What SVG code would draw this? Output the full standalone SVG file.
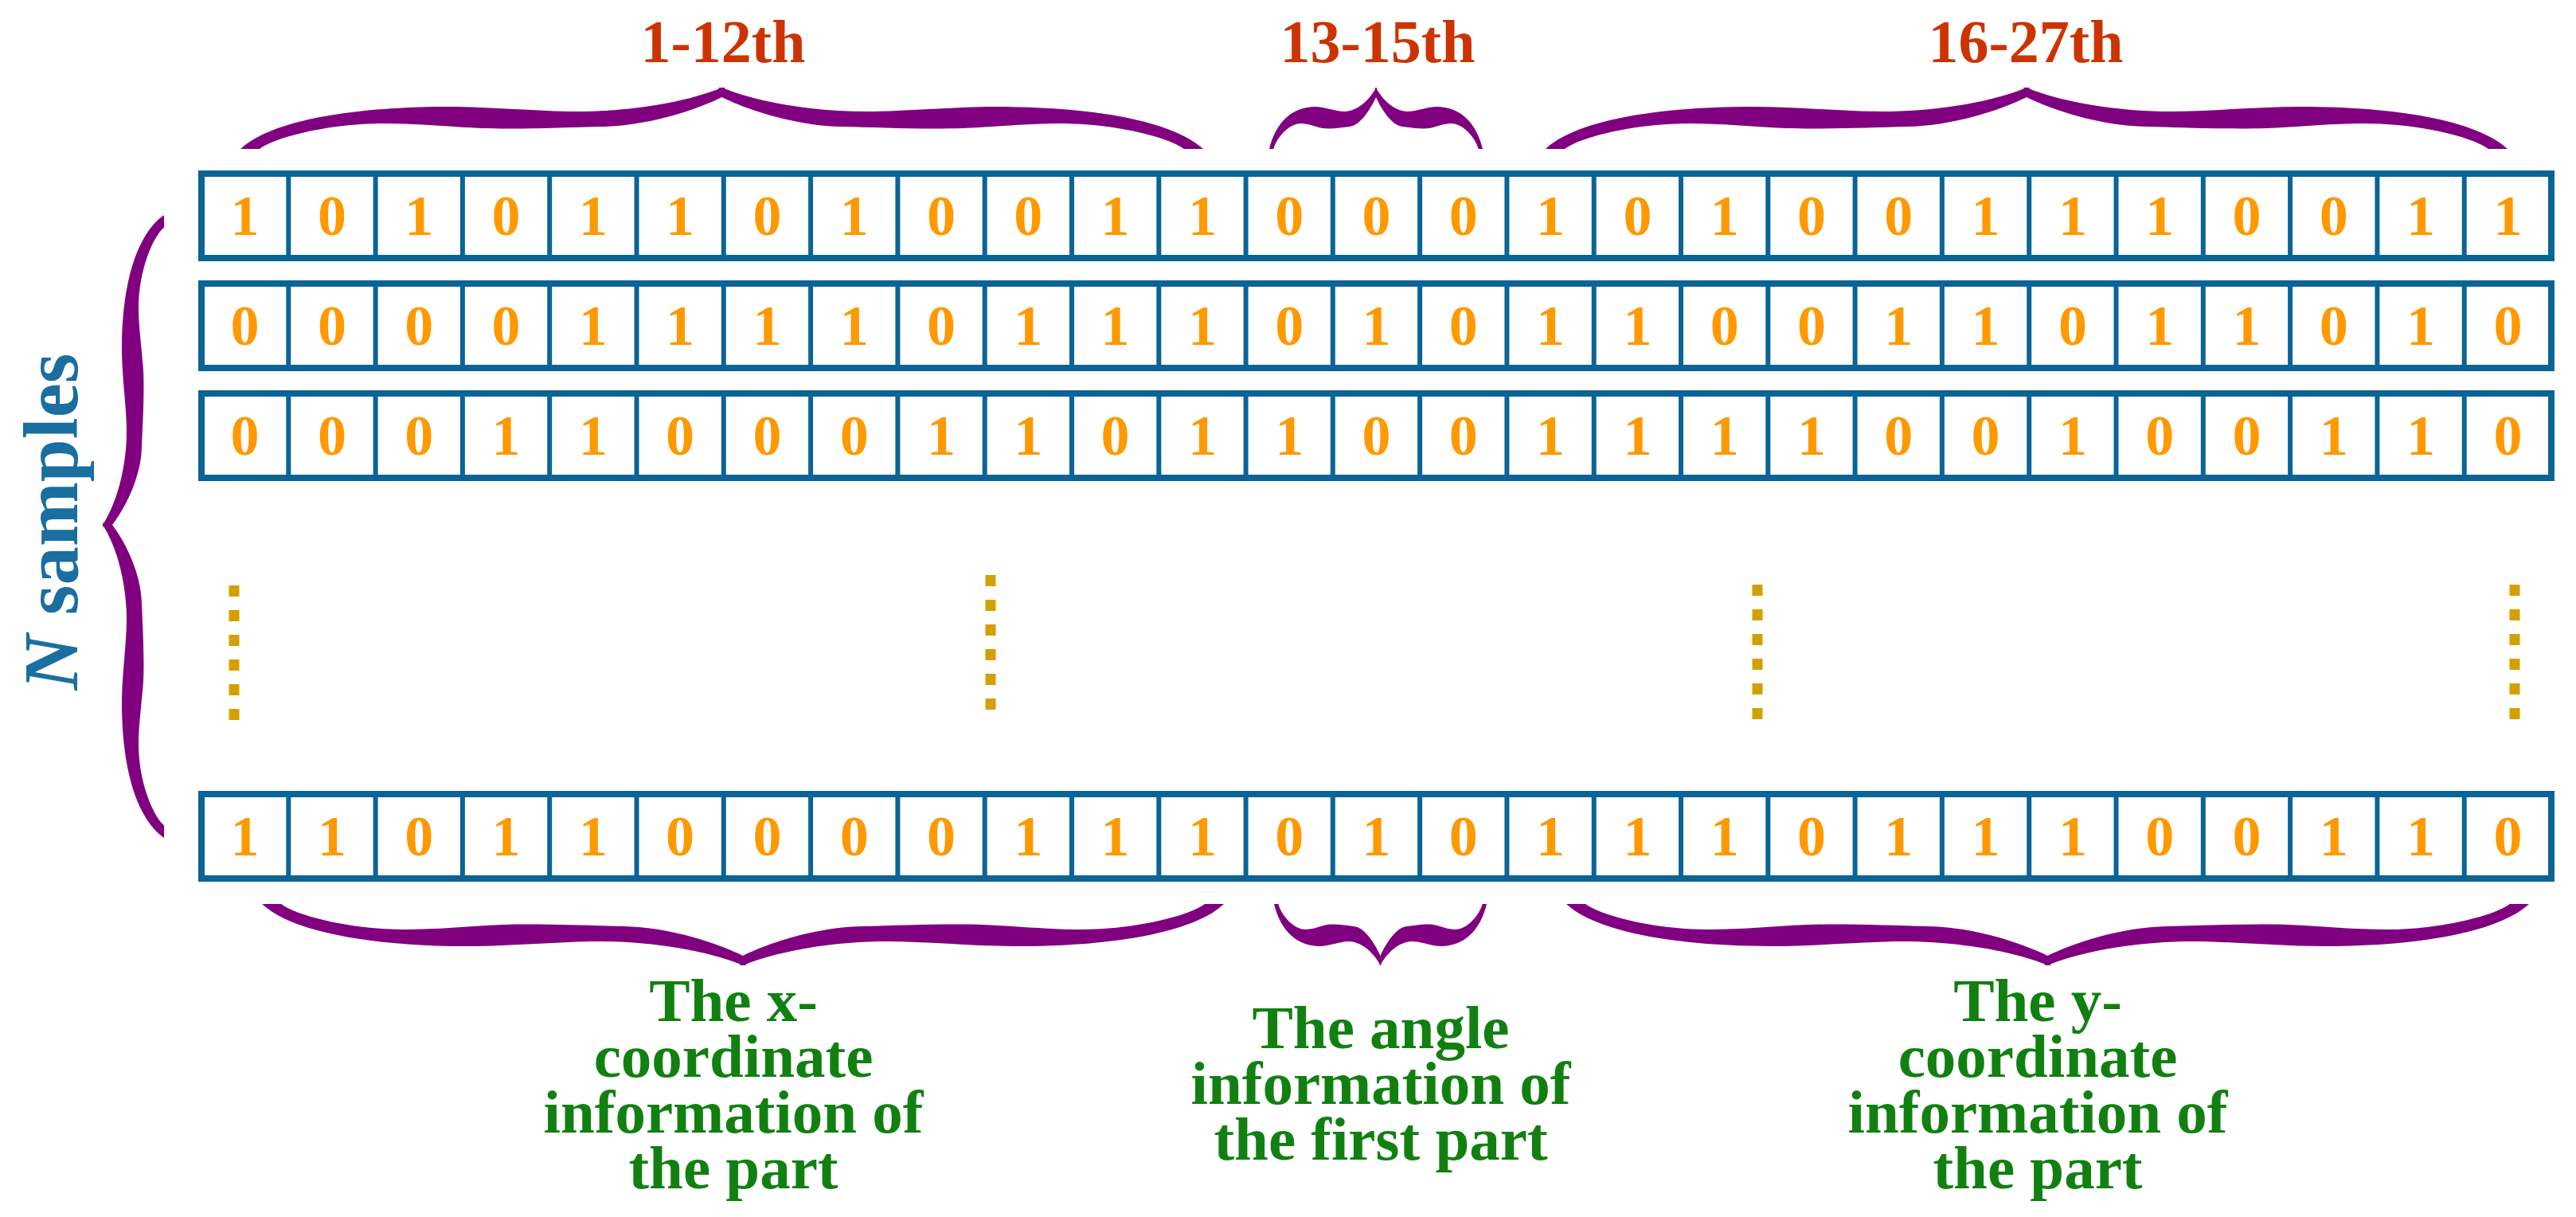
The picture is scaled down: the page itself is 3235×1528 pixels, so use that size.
<svg xmlns="http://www.w3.org/2000/svg" width="3235" height="1528" viewBox="0 0 3235 1528">
<style>
.bit{font-family:"Liberation Serif","Times New Roman",serif;font-weight:bold;font-size:72px;fill:#FF9900;text-anchor:middle}
.rng{font-family:"Liberation Serif","Times New Roman",serif;font-weight:bold;font-size:76px;fill:#CC3300;text-anchor:middle}
.desc{font-family:"Liberation Serif","Times New Roman",serif;font-weight:bold;font-size:77px;fill:#118011;text-anchor:middle}
.ns{font-family:"Liberation Serif","Times New Roman",serif;font-weight:bold;font-size:97px;fill:#1A6EA0;text-anchor:middle}
.dots{stroke:#D4A000;stroke-width:13;stroke-dasharray:14 17;fill:none}
.br{fill:#800080}
</style>
<defs>
<g id="frame">
<rect x="253" y="4" width="2951" height="106" fill="#ffffff" stroke="#0A6496" stroke-width="8"/>
<path stroke="#0A6496" stroke-width="6" fill="none" d="M362.3,4V110M471.6,4V110M580.9,4V110M690.2,4V110M799.5,4V110M908.8,4V110M1018.1,4V110M1127.4,4V110M1236.7,4V110M1346,4V110M1455.3,4V110M1564.6,4V110M1673.8,4V110M1783.1,4V110M1892.4,4V110M2001.7,4V110M2111,4V110M2220.3,4V110M2329.6,4V110M2438.9,4V110M2548.2,4V110M2657.5,4V110M2766.8,4V110M2876.1,4V110M2985.4,4V110M3094.7,4V110"/>
</g>
<path id="half" d="M0,0 C0.06,-34 0.22,-53 0.43,-53 C0.52,-53 0.62,-47 0.7,-47 C0.8,-47 0.92,-57 1,-77 L1.006,-77 L1.006,-65 L1,-65 C0.95,-50 0.85,-29 0.75,-28 C0.68,-27 0.58,-24.5 0.5,-26 C0.43,-28 0.36,-32 0.3,-32 C0.18,-32 0.07,-14 0.04,0 Z"/>
</defs>
<rect width="3235" height="1528" fill="#ffffff"/>

<g id="labels-top">
<text class="rng" x="908" y="78">1-12th</text>
<text class="rng" x="1730" y="78">13-15th</text>
<text class="rng" x="2544" y="78">16-27th</text>
</g>

<g id="row1" transform="translate(0,214)">
<use href="#frame"/>
<text class="bit" y="81" x="307.6 416.9 526.2 635.5 744.8 854.1 963.4 1072.7 1182 1291.3 1400.6 1509.9 1619.2 1728.5 1837.8 1947.1 2056.4 2165.7 2275 2384.3 2493.6 2602.9 2712.2 2821.5 2930.8 3040.1 3149.4">101011010011000101001110011</text>
</g>
<g id="row2" transform="translate(0,352)">
<use href="#frame"/>
<text class="bit" y="81" x="307.6 416.9 526.2 635.5 744.8 854.1 963.4 1072.7 1182 1291.3 1400.6 1509.9 1619.2 1728.5 1837.8 1947.1 2056.4 2165.7 2275 2384.3 2493.6 2602.9 2712.2 2821.5 2930.8 3040.1 3149.4">000011110111010110011011010</text>
</g>
<g id="row3" transform="translate(0,490)">
<use href="#frame"/>
<text class="bit" y="81" x="307.6 416.9 526.2 635.5 744.8 854.1 963.4 1072.7 1182 1291.3 1400.6 1509.9 1619.2 1728.5 1837.8 1947.1 2056.4 2165.7 2275 2384.3 2493.6 2602.9 2712.2 2821.5 2930.8 3040.1 3149.4">000110001101100111100100110</text>
</g>
<g id="rowN" transform="translate(0,993)">
<use href="#frame"/>
<text class="bit" y="81" x="307.6 416.9 526.2 635.5 744.8 854.1 963.4 1072.7 1182 1291.3 1400.6 1509.9 1619.2 1728.5 1837.8 1947.1 2056.4 2165.7 2275 2384.3 2493.6 2602.9 2712.2 2821.5 2930.8 3040.1 3149.4">110110000111010111011100110</text>
</g>

<g id="ellipsis">
<line class="dots" x1="294" y1="735" x2="294" y2="904"/>
<line class="dots" x1="1244" y1="722" x2="1244" y2="891"/>
<line class="dots" x1="2207" y1="734" x2="2207" y2="903"/>
<line class="dots" x1="3158" y1="734" x2="3158" y2="903"/>
</g>

<g id="braces" class="br">
<use href="#half" transform="matrix(604.5,0,0,1,302,187)"/>
<use href="#half" transform="matrix(-604.5,0,0,1,1511,187)"/>
<use href="#half" transform="matrix(134,0,0,1,1594,187)"/>
<use href="#half" transform="matrix(-134,0,0,1,1862,187)"/>
<use href="#half" transform="matrix(604,0,0,1,1941,187)"/>
<use href="#half" transform="matrix(-604,0,0,1,3149,187)"/>
<use href="#half" transform="matrix(604,0,0,-1,329,1135)"/>
<use href="#half" transform="matrix(-604,0,0,-1,1537,1135)"/>
<use href="#half" transform="matrix(133.5,0,0,-1,1600,1135)"/>
<use href="#half" transform="matrix(-133.5,0,0,-1,1867,1135)"/>
<use href="#half" transform="matrix(604.5,0,0,-1,1967,1135)"/>
<use href="#half" transform="matrix(-604.5,0,0,-1,3176,1135)"/>
<use href="#half" transform="matrix(0,389,1,0,206,270)"/>
<use href="#half" transform="matrix(0,-393,1,0,206,1052)"/>
</g>

<g id="label-n">
<text class="ns" transform="translate(97,655) rotate(-90)"><tspan font-style="italic">N</tspan> samples</text>
</g>

<g id="labels-bottom">
<text class="desc" y="1282"><tspan x="921">The x-</tspan><tspan x="921" dy="70">coordinate</tspan><tspan x="921" dy="70">information of</tspan><tspan x="921" dy="70">the part</tspan></text>
<text class="desc" y="1316"><tspan x="1734">The angle</tspan><tspan x="1734" dy="70">information of</tspan><tspan x="1734" dy="70">the first part</tspan></text>
<text class="desc" y="1282"><tspan x="2559">The y-</tspan><tspan x="2559" dy="70">coordinate</tspan><tspan x="2559" dy="70">information of</tspan><tspan x="2559" dy="70">the part</tspan></text>
</g>
</svg>
